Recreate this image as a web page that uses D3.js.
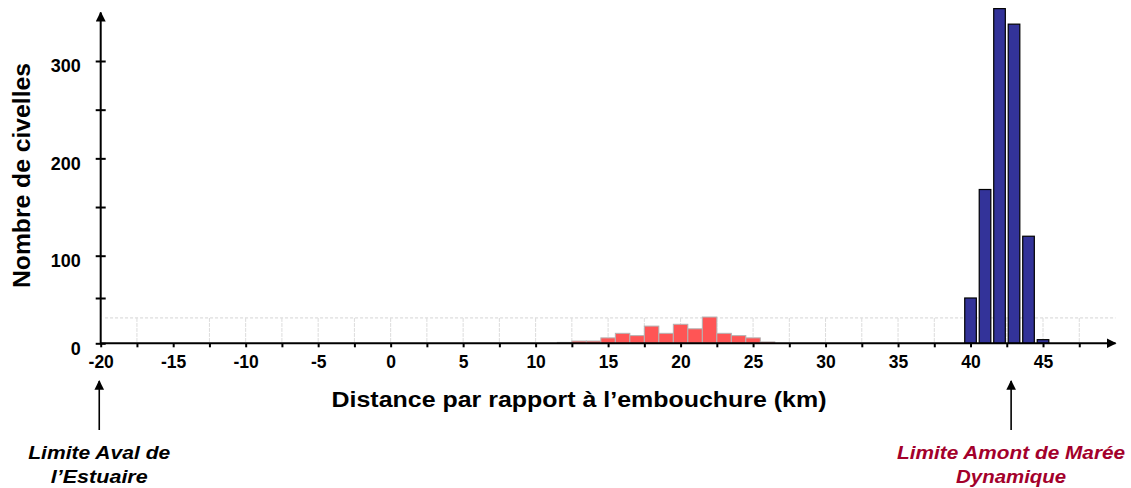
<!DOCTYPE html>
<html>
<head>
<meta charset="utf-8">
<script src="https://cdn.jsdelivr.net/npm/d3@7"></script>
<style>
  html, body { margin: 0; padding: 0; background: #fff; }
  svg { display: block; }
  text { font-family: "Liberation Sans", Arial, sans-serif; font-weight: bold; }
</style>
</head>
<body>
<svg id="chart" width="1131" height="488"></svg>
<script>
// ---- data ----
const redKm     = [12, 13, 14, 15, 16, 17, 18, 19, 20, 21, 22, 23, 24, 25, 26];
const redCount  = [1, 2.5, 2.5, 6, 11, 8.5, 19, 11, 21, 16, 29, 11, 8.5, 6, 1.5];
const blueKm    = [40, 41, 42, 43, 44, 45];
const blueCount = [50, 168, 354, 338, 120, 4];
const xTickValues = d3.range(-20, 50, 2.5);
const xLabelValues = [-20, -15, -10, -5, 0, 5, 10, 15, 20, 25, 30, 35, 40, 45];
const yTickValues = [0, 50, 100, 150, 200, 250, 300];
const yLabelValues = [0, 100, 200, 300];
const gridLevel = 28;
const xTitle = "Distance par rapport à l’embouchure (km)";
const yTitle = "Nombre de civelles";
const annotations = [
  { km: -20.1, lines: ["Limite Aval de", "l’Estuaire"], color: "#000000", len: [142, 97] },
  { km: 42.8,  lines: ["Limite Amont de Marée", "Dynamique"], color: "#A3002B", len: [228, 110] }
];

// ---- scales ----
const svg = d3.select("#chart");
const x = d3.scaleLinear().domain([-20, 50]).range([100.7, 1115.5]);
const y = d3.scaleLinear().domain([0, 50, 100, 300, 350]).range([343.3, 298, 255.7, 61, 12.5]);

// markers
const defs = svg.append("defs");
defs.append("marker").attr("id", "arrow")
  .attr("viewBox", "0 0 10 10").attr("refX", 9).attr("refY", 5)
  .attr("markerWidth", 5).attr("markerHeight", 5).attr("orient", "auto")
  .attr("markerUnits", "strokeWidth")
  .append("path").attr("d", "M0,0 L10,5 L0,10 z").attr("fill", "#000");
defs.append("marker").attr("id", "arrowThin")
  .attr("viewBox", "0 0 10 10").attr("refX", 9).attr("refY", 5)
  .attr("markerWidth", 6).attr("markerHeight", 7).attr("orient", "auto")
  .attr("markerUnits", "strokeWidth")
  .append("path").attr("d", "M0,0 L10,5 L0,10 z").attr("fill", "#000");

// ---- grid (faint) ----
const grid = svg.append("g");
grid.append("line")
  .attr("x1", x(-19.7)).attr("x2", x(50))
  .attr("y1", y(gridLevel)).attr("y2", y(gridLevel))
  .attr("stroke", "#d4d4d4").attr("stroke-width", 1).attr("stroke-dasharray", "3,2");
grid.selectAll("line.v").data(xTickValues.filter(v => v > -20 && v !== -15)).enter()
  .append("line").attr("class", "v")
  .attr("x1", d => x(d)).attr("x2", d => x(d))
  .attr("y1", y(gridLevel)).attr("y2", y(0))
  .attr("stroke", "#dcdcdc").attr("stroke-width", 1).attr("stroke-dasharray", "4,1");

// ---- bars ----
const redData = redKm.map((k, i) => ({ k, v: redCount[i] }));
const blueData = blueKm.map((k, i) => ({ k, v: blueCount[i] }));

svg.append("g").selectAll("rect").data(redData).enter().append("rect")
  .attr("x", d => x(d.k - 0.5))
  .attr("width", d => x(d.k + 0.5) - x(d.k - 0.5))
  .attr("y", d => y(d.v))
  .attr("height", d => y(0) - y(d.v))
  .attr("fill", "#FF5555").attr("stroke", "#b4b4b4").attr("stroke-width", 1);

svg.append("g").selectAll("rect").data(blueData).enter().append("rect")
  .attr("x", d => x(d.k - 0.4))
  .attr("width", d => x(d.k + 0.4) - x(d.k - 0.4))
  .attr("y", d => y(d.v))
  .attr("height", d => y(0) - y(d.v))
  .attr("fill", "#333399").attr("stroke", "#000").attr("stroke-width", 1.2);

// ---- x axis ----
const xAxis = d3.axisBottom(x).tickValues(xTickValues).tickSize(4)
  .tickFormat(d => xLabelValues.includes(d) ? String(d) : "");
const gx = svg.append("g").attr("transform", `translate(0,${y(0)})`).call(xAxis);
gx.select(".domain").remove();
gx.selectAll(".tick line").attr("stroke", "#000").attr("stroke-width", 2);
gx.selectAll(".tick text").attr("y", 25).attr("dy", 0)
  .attr("font-size", 17.5).attr("fill", "#000")
  .style("font-family", '"Liberation Sans", Arial, sans-serif').style("font-weight", "bold");
svg.append("line")
  .attr("x1", x(-20)).attr("x2", x(50))
  .attr("y1", y(0)).attr("y2", y(0))
  .attr("stroke", "#000").attr("stroke-width", 2).attr("marker-end", "url(#arrow)");

// ---- y axis ----
const yAxis = d3.axisLeft(y).tickValues(yTickValues).tickSize(5)
  .tickFormat(d => yLabelValues.includes(d) ? String(d) : "");
const gy = svg.append("g").attr("transform", `translate(${x(-20)},0)`).call(yAxis);
gy.select(".domain").remove();
gy.selectAll(".tick line").attr("x1", -5).attr("x2", 5).attr("stroke", "#000").attr("stroke-width", 2);
gy.selectAll(".tick text").attr("x", -20).attr("dy", "0.6em")
  .attr("font-size", 18).attr("fill", "#000")
  .style("font-family", '"Liberation Sans", Arial, sans-serif').style("font-weight", "bold");
svg.append("line")
  .attr("x1", x(-20)).attr("x2", x(-20))
  .attr("y1", y(0) + 1).attr("y2", y(350))
  .attr("stroke", "#000").attr("stroke-width", 2).attr("marker-end", "url(#arrow)");

// ---- titles ----
svg.append("text")
  .attr("x", 579).attr("y", 406.7)
  .attr("text-anchor", "middle").attr("font-size", 22)
  .attr("textLength", 495).attr("lengthAdjust", "spacingAndGlyphs")
  .attr("fill", "#000").text(xTitle);

svg.append("text")
  .attr("transform", "translate(30,175.5) rotate(-90)")
  .attr("text-anchor", "middle").attr("font-size", 23)
  .attr("textLength", 225).attr("lengthAdjust", "spacingAndGlyphs")
  .attr("fill", "#000").text(yTitle);

// ---- annotations ----
annotations.forEach(a => {
  const ax = x(a.km);
  svg.append("line")
    .attr("x1", ax).attr("x2", ax).attr("y1", 430).attr("y2", 381)
    .attr("stroke", "#000").attr("stroke-width", 1.6).attr("marker-end", "url(#arrowThin)");
  a.lines.forEach((ln, i) => {
    svg.append("text")
      .attr("x", ax).attr("y", 458.5 + i * 24.5)
      .attr("text-anchor", "middle").attr("font-size", 19)
      .attr("textLength", a.len[i]).attr("lengthAdjust", "spacingAndGlyphs")
      .style("font-style", "italic")
      .attr("fill", a.color).text(ln);
  });
});
</script>
</body>
</html>
